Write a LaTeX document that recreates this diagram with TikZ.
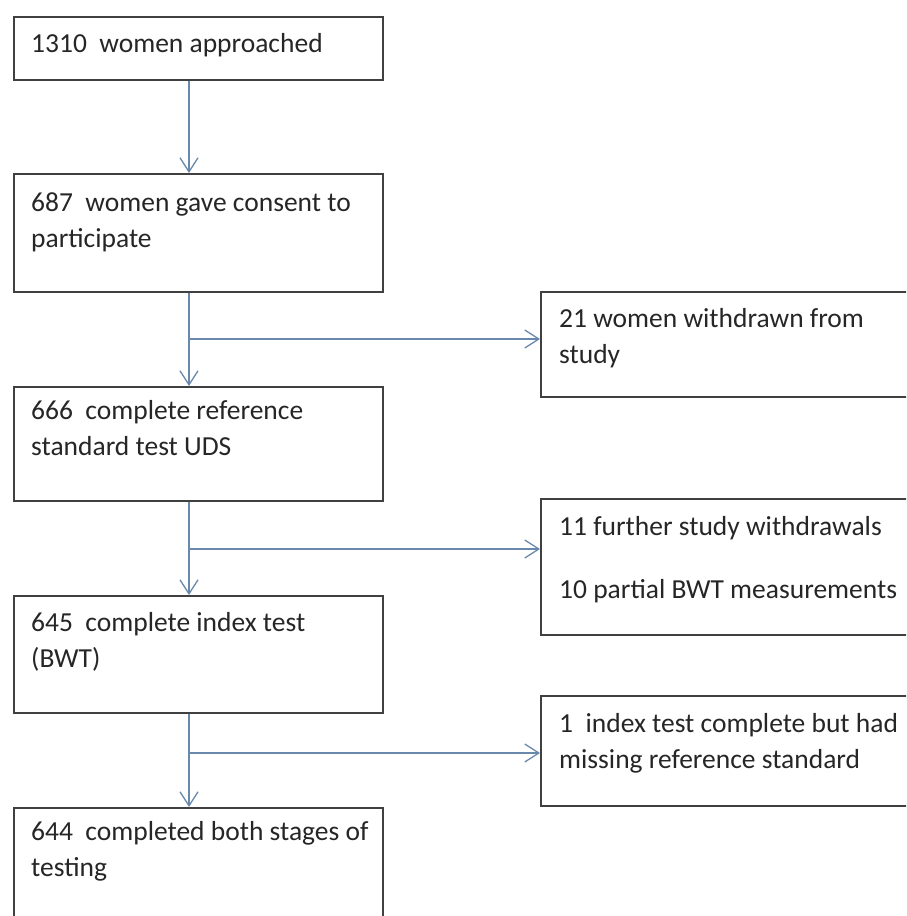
\documentclass[tikz,border=0pt]{standalone}
\usepackage{fontspec}
\setmainfont{Carlito}
\usetikzlibrary{arrows.meta}
\definecolor{arrowblue}{RGB}{104,136,172}
\begin{document}
\begin{tikzpicture}[x=1pt,y=-1pt,
    box/.style={draw=black!75, line width=1.7pt, rectangle, inner sep=0pt,
      minimum width=369pt, anchor=north west},
    sidebox/.style={box, minimum width=380pt},
    txt/.style={inner sep=0pt, anchor=base west, align=flush left, text width=420pt,
      text=black!85, font=\fontsize{27.5}{36}\selectfont},
    link/.style={draw=arrowblue, line width=1.3pt},
    flow/.style={link, -{Straight Barb[length=14pt,width=18pt]}}]
  \useasboundingbox (0,0) rectangle (906,916);
  \clip (0,0) rectangle (906,916);
  % main column
  \node[box, minimum height=63pt]  (approached) at (13,16)  {};
  \node[box, minimum height=118pt] (consent)    at (13,173) {};
  \node[box, minimum height=114pt] (reference)  at (13,386) {};
  \node[box, minimum height=117pt] (index)      at (13,595) {};
  \node[box, minimum height=120pt] (both)       at (13,807) {};
  % side boxes
  \node[sidebox, minimum height=105pt] (withdrawn) at (540,291) {};
  \node[sidebox, minimum height=136pt] (further)   at (540,498) {};
  \node[sidebox, minimum height=110pt] (missing)   at (540,695) {};
  % texts
  \node[txt] (t1) at ([shift={(18,36)}]approached.north west) {1310~~women approached};
  \node[txt] (t2) at ([shift={(18,38)}]consent.north west) {687~~women gave consent to\\participate};
  \node[txt] (t3) at ([shift={(18,33)}]reference.north west) {666~~complete reference\\standard test UDS};
  \node[txt] (t4) at ([shift={(18,36)}]index.north west) {645~~complete index test\\(BWT)};
  \node[txt] (t5) at ([shift={(18,33)}]both.north west) {644~~completed both stages of\\testing};
  \node[txt] (t6) at ([shift={(19,36)}]withdrawn.north west) {21 women withdrawn from\\study};
  \node[txt] (t7) at ([shift={(19,37)}]further.north west) {11 further study withdrawals\\[27pt]10 partial BWT measurements};
  \node[txt] (t8) at ([shift={(19,37)}]missing.north west) {1~~index test complete but had\\missing reference standard};
  % connectors
  \coordinate (j1) at (189,339);
  \coordinate (j2) at (189,549);
  \coordinate (j3) at (189,753);
  \draw[flow] (approached.south -| j1) -- (consent.north -| j1);
  \draw[flow] (consent.south -| j1) -- (reference.north -| j1);
  \draw[flow] (reference.south -| j2) -- (index.north -| j2);
  \draw[flow] (index.south -| j3) -- (both.north -| j3);
  \draw[flow] (j1) -- (withdrawn.west |- j1);
  \draw[flow] (j2) -- (further.west |- j2);
  \draw[flow] (j3) -- (missing.west |- j3);
\end{tikzpicture}
\end{document}
